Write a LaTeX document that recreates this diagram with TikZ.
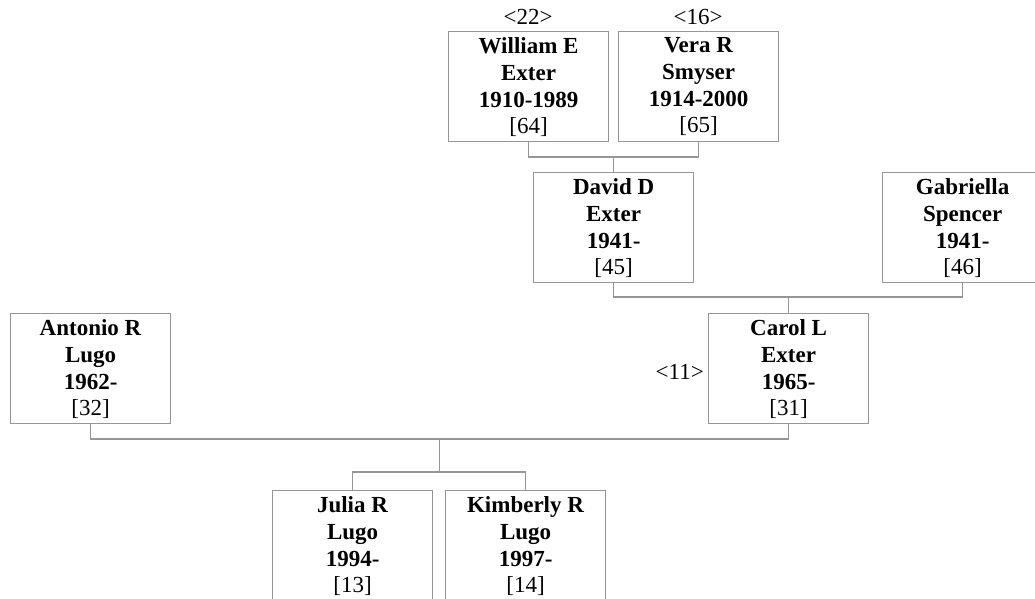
\documentclass[tikz,border=0pt]{standalone}
\usepackage{fontspec}
\setmainfont{Liberation Serif}
\usetikzlibrary{calc}
\definecolor{linegray}{RGB}{150,150,150}
\begin{document}
\begin{tikzpicture}[x=1pt,y=-1pt,
  box/.style={draw=linegray, line width=1.2pt, minimum width=160pt, minimum height=110pt, anchor=north west, inner sep=0pt},
  txt/.style={anchor=north, align=center, inner sep=0pt, font=\fontsize{23}{26.7}\selectfont},
  tag/.style={inner sep=0pt, font=\fontsize{23}{26.7}\selectfont},
  link/.style={draw=linegray, line width=1.2pt}]
\clip (0,0) rectangle (1035,599);
% boxes
\node[box] (w) at (448,31) {};
\node[box] (v) at (618,31) {};
\node[box] (d) at (533,172) {};
\node[box] (g) at (882,172) {};
\node[box] (a) at (10,313) {};
\node[box] (c) at (708,313) {};
\node[box] (j) at (272,490) {};
\node[box] (k) at (445,490) {};
% texts
\node[txt] (wt) at ([yshift=-6.5pt]w.north) {\textbf{William E}\\\textbf{Exter}\\\textbf{1910-1989}\\{[64]}};
\node[txt] (vt) at ([yshift=-6.5pt]v.north) {\textbf{Vera R}\\\textbf{Smyser}\\\textbf{1914-2000}\\{[65]}};
\node[txt] (dt) at ([yshift=-6.5pt]d.north) {\textbf{David D}\\\textbf{Exter}\\\textbf{1941-}\\{[45]}};
\node[txt] (gt) at ([yshift=-6.5pt]g.north) {\textbf{Gabriella}\\\textbf{Spencer}\\\textbf{1941-}\\{[46]}};
\node[txt] (at) at ([yshift=-6.5pt]a.north) {\textbf{Antonio R}\\\textbf{Lugo}\\\textbf{1962-}\\{[32]}};
\node[txt] (ct) at ([yshift=-6.5pt]c.north) {\textbf{Carol L}\\\textbf{Exter}\\\textbf{1965-}\\{[31]}};
\node[txt] (jt) at ([yshift=-6.5pt]j.north) {\textbf{Julia R}\\\textbf{Lugo}\\\textbf{1994-}\\{[13]}};
\node[txt] (kt) at ([yshift=-6.5pt]k.north) {\textbf{Kimberly R}\\\textbf{Lugo}\\\textbf{1997-}\\{[14]}};
% tags
\node[tag, anchor=base] (w22) at (528,25) {<22>};
\node[tag, anchor=base] (v16) at (698,25) {<16>};
\node[tag, anchor=base east] (c11) at (704,379) {<11>};
% connectors
\coordinate (m1) at ($(d.north)+(0,-15)$);
\coordinate (m2) at ($(c.north)+(0,-16)$);
\coordinate (m4) at ($(j.north)!0.5!(k.north)+(0,-18)$);
\coordinate (m3) at ($(m4)+(0,-33)$);
\draw[link] (w.south) |- (m1) -| (v.south);
\draw[link] (m1) -- (d.north);
\draw[link] (d.south) |- (m2) -| (g.south);
\draw[link] (m2) -- (c.north);
\draw[link] (a.south) |- (m3) -| (c.south);
\draw[link] (m3) -- (m4);
\draw[link] (j.north) |- (m4) -| (k.north);
\end{tikzpicture}
\end{document}
